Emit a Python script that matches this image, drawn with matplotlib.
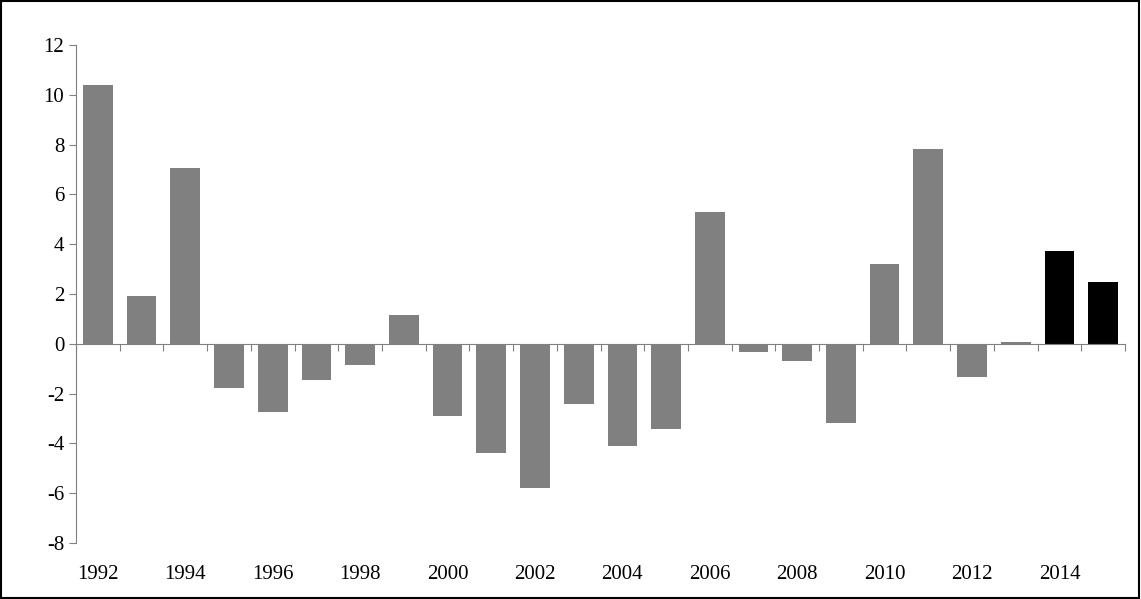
import numpy as np
import matplotlib.pyplot as plt
import matplotlib.transforms as mtransforms

plt.rcParams['font.family'] = ['Liberation Serif', 'DejaVu Serif']
plt.rcParams['axes.unicode_minus'] = False

years = list(range(1992, 2016))
values = [10.4, 1.9, 7.07, -1.77, -2.73, -1.45, -0.84, 1.16, -2.9, -4.38,
          -5.78, -2.4, -4.1, -3.41, 5.3, -0.32, -0.68, -3.17, 3.21, 7.83,
          -1.33, 0.08, 3.73, 2.49]
colors = ['#808080'] * 22 + ['#000000'] * 2

fig = plt.figure(figsize=(11.41, 5.99), dpi=100)
fig.patches.append(plt.Rectangle((0.001, 0.001), 0.997, 0.997, transform=fig.transFigure,
                                 fill=False, edgecolor='black', linewidth=1.5))
ax = fig.add_axes([0.0666, 0.0935, 0.9194, 0.8315])

x = np.arange(len(years))
ax.bar(x, values, width=0.68, color=colors, zorder=2)

ax.set_xlim(-0.5, len(years) - 0.5)
ax.set_ylim(-8, 12)
ax.set_yticks(range(-8, 13, 2))
ax.tick_params(axis='y', labelsize=15, direction='out', length=5, color='#808080')

for s in ['top', 'right']:
    ax.spines[s].set_visible(False)
ax.spines['left'].set_color('#808080')
ax.spines['bottom'].set_position(('data', 0))
ax.spines['bottom'].set_color('#808080')

ax.set_xticks(np.arange(-0.5, len(years), 1))
ax.set_xticklabels([])
ax.tick_params(axis='x', direction='out', length=5, color='#808080')

trans = mtransforms.blended_transform_factory(ax.transData, ax.transAxes)
for i, yr in enumerate(years):
    if yr % 2 == 0:
        ax.text(i, -0.045, str(yr), transform=trans, ha='center', va='top', fontsize=15)

fig.savefig('out.png')
